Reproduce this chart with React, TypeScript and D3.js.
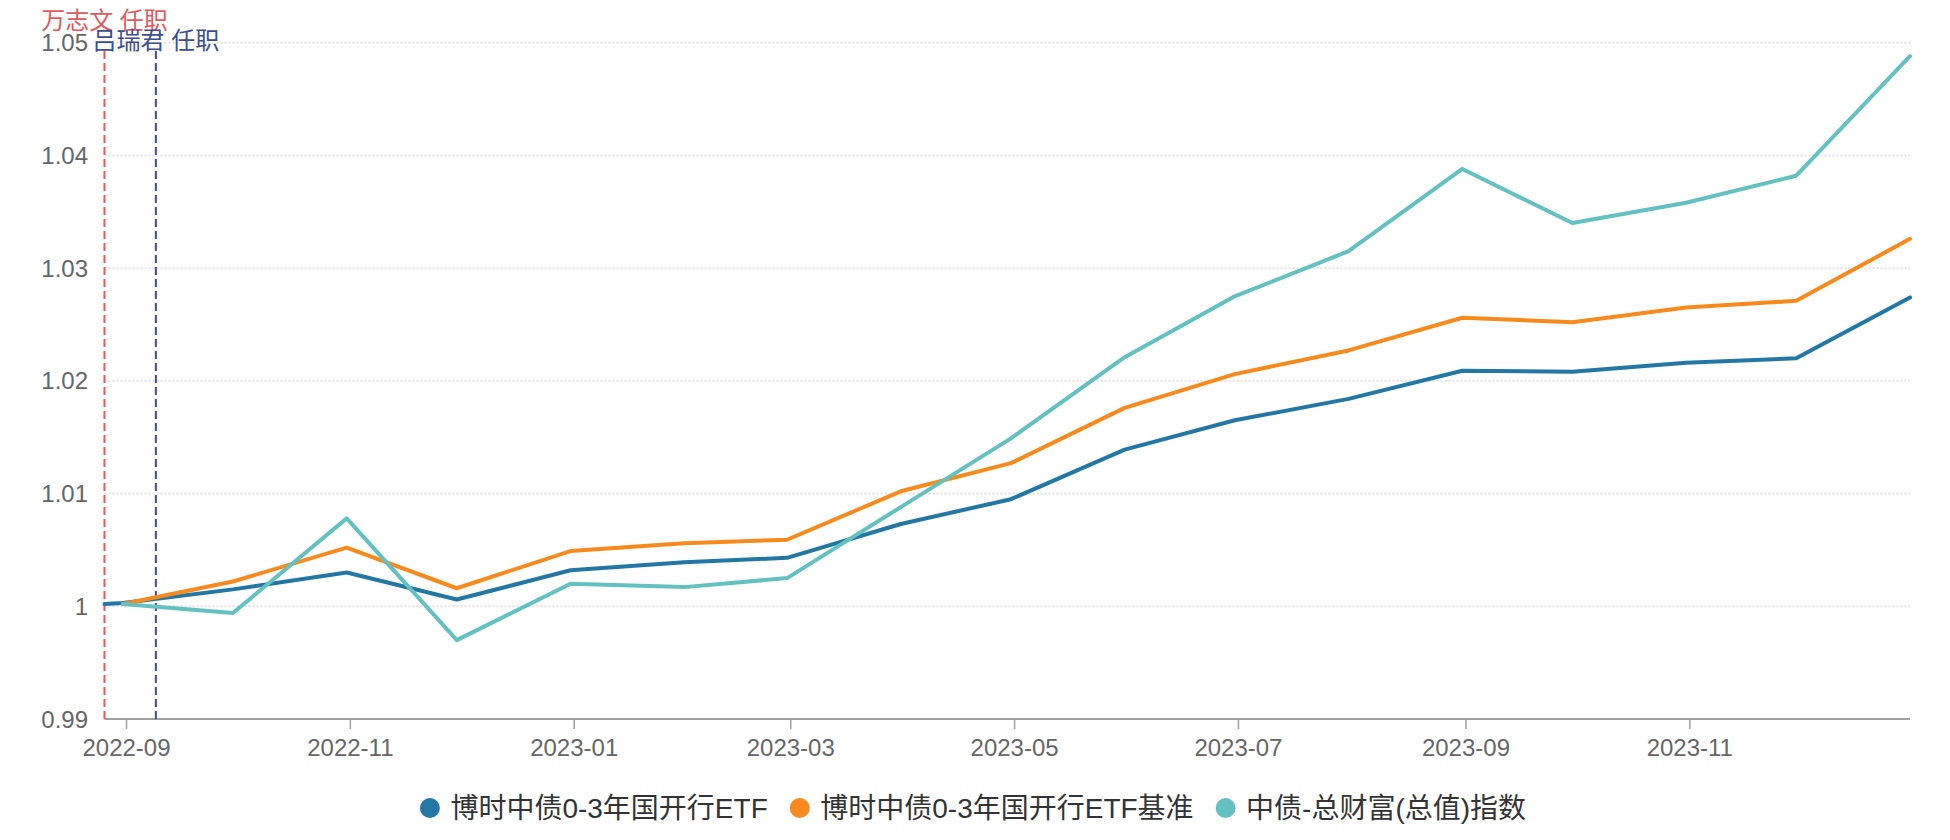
import React, { useEffect, useRef } from "react";
import * as d3 from "d3";

// ---- data ----
const dates = [
  "2022-08-26", "2022-08-31", "2022-09-30", "2022-10-31", "2022-11-30", "2022-12-31",
  "2023-01-31", "2023-02-28", "2023-03-31", "2023-04-30", "2023-05-31", "2023-06-30",
  "2023-07-31", "2023-08-31", "2023-09-30", "2023-10-31", "2023-11-30", "2023-12-31",
];
const fundValues = [
  1.0002, 1.0003, 1.0015, 1.003, 1.0006, 1.0032, 1.0039, 1.0043, 1.0073, 1.0095,
  1.0139, 1.0165, 1.0184, 1.0209, 1.0208, 1.0216, 1.022, 1.0274,
];
const benchmarkValues = [
  null, 1.0002, 1.0022, 1.0052, 1.0016, 1.0049, 1.0056, 1.0059, 1.0102, 1.0127,
  1.0176, 1.0206, 1.0227, 1.0256, 1.0252, 1.0265, 1.0271, 1.0326,
];
const indexValues = [
  null, 1.0002, 0.9994, 1.0078, 0.997, 1.002, 1.0017, 1.0025, 1.0088, 1.0149,
  1.0221, 1.0275, 1.0315, 1.0388, 1.034, 1.0358, 1.0382, 1.0488,
];
const seriesNames = ["博时中债0-3年国开行ETF", "博时中债0-3年国开行ETF基准", "中债-总财富(总值)指数"];
const yTicks = [0.99, 1, 1.01, 1.02, 1.03, 1.04, 1.05];
const yTickLabels = ["0.99", "1", "1.01", "1.02", "1.03", "1.04", "1.05"];
const xTickLabels = ["2022-09", "2022-11", "2023-01", "2023-03", "2023-05", "2023-07", "2023-09", "2023-11"];
const managerLabels = ["万志文 任职", "吕瑞君 任职"];
const managerDates = ["2022-08-26", "2022-09-09"];

// ---- styles ----
const seriesColors = ["#2377a4", "#f78a1d", "#63c1c1"];
const managerColors = ["#e05a5e", "#3e4e8c"];
const FONT = "'Liberation Sans', 'Noto Sans CJK SC', sans-serif";

export default function App() {
  const ref = useRef<SVGSVGElement>(null);

  useEffect(() => {
    const svg = d3.select(ref.current);
    svg.selectAll("*").remove();
    const parse = d3.timeParse("%Y-%m-%d");
    const parseM = d3.timeParse("%Y-%m");
    const dd = dates.map((s) => parse(s) as Date);

    const left = 104.5, right = 1910, top = 42.7, bottom = 719;
    const x = d3.scaleTime().domain([dd[0], dd[dd.length - 1]]).range([left, right]);
    const y = d3.scaleLinear().domain([0.99, 1.05]).range([bottom, top]);

    const g = svg.append("g").attr("font-family", FONT);

    // grid lines
    g.append("g")
      .selectAll("line")
      .data(yTicks.filter((v) => v !== 0.99))
      .join("line")
      .attr("x1", left)
      .attr("x2", right)
      .attr("y1", (d) => y(d))
      .attr("y2", (d) => y(d))
      .attr("stroke", "#e2e2e2")
      .attr("stroke-width", 2)
      .attr("stroke-dasharray", "2,2");

    // y labels
    g.append("g")
      .selectAll("text")
      .data(yTicks)
      .join("text")
      .attr("x", 88)
      .attr("y", (d) => y(d))
      .attr("text-anchor", "end")
      .attr("dominant-baseline", "central")
      .attr("font-size", 24)
      .attr("fill", "#666")
      .text((d, i) => yTickLabels[i]);

    // x axis
    g.append("line")
      .attr("x1", left)
      .attr("x2", right)
      .attr("y1", bottom)
      .attr("y2", bottom)
      .attr("stroke", "#a0a0a0")
      .attr("stroke-width", 2);
    const xt = xTickLabels.map((s) => parseM(s) as Date);
    g.append("g")
      .selectAll("line")
      .data(xt)
      .join("line")
      .attr("x1", (d) => x(d))
      .attr("x2", (d) => x(d))
      .attr("y1", bottom)
      .attr("y2", bottom + 10)
      .attr("stroke", "#a0a0a0")
      .attr("stroke-width", 1.5);
    g.append("g")
      .selectAll("text")
      .data(xt)
      .join("text")
      .attr("x", (d) => x(d))
      .attr("y", 747)
      .attr("text-anchor", "middle")
      .attr("dominant-baseline", "central")
      .attr("font-size", 24)
      .attr("fill", "#666")
      .text((d, i) => xTickLabels[i]);

    // manager mark lines
    managerDates.forEach((s, i) => {
      const xx = x(parse(s) as Date);
      g.append("line")
        .attr("x1", xx)
        .attr("x2", xx)
        .attr("y1", bottom)
        .attr("y2", 51)
        .attr("stroke", managerColors[i])
        .attr("stroke-width", 2)
        .attr("stroke-dasharray", "8,4");
      g.append("text")
        .attr("x", xx)
        .attr("y", i === 0 ? 20 : 40)
        .attr("text-anchor", "middle")
        .attr("dominant-baseline", "central")
        .attr("font-size", 24)
        .attr("fill", managerColors[i])
        .text(managerLabels[i]);
    });

    // series
    const allSeries = [fundValues, benchmarkValues, indexValues];
    allSeries.forEach((vals, si) => {
      const pts = vals.map((v, i) => ({ d: dd[i], v }));
      const line = d3
        .line<{ d: Date; v: number | null }>()
        .defined((p) => p.v != null)
        .x((p) => x(p.d))
        .y((p) => y(p.v as number));
      g.append("path")
        .attr("d", line(pts))
        .attr("fill", "none")
        .attr("stroke", seriesColors[si])
        .attr("stroke-width", 4)
        .attr("stroke-linejoin", "round")
        .attr("stroke-linecap", "round");
    });

    // legend
    const lg = g.append("g");
    const legendY = 808;
    const items = seriesNames.map((name, i) => {
      const it = lg.append("g");
      it.append("circle").attr("cx", 10).attr("cy", legendY).attr("r", 10).attr("fill", seriesColors[i]);
      const t = it
        .append("text")
        .attr("x", 30.5)
        .attr("y", legendY)
        .attr("dominant-baseline", "central")
        .attr("font-size", 28)
        .attr("fill", "#333")
        .text(name);
      const w = (t.node() as SVGTextElement).getComputedTextLength();
      return { it, w: 30.5 + w };
    });
    const gap = 22;
    const total = d3.sum(items, (d) => d.w) + gap * (items.length - 1);
    let cx = 973 - total / 2;
    items.forEach((d) => {
      d.it.attr("transform", `translate(${cx},0)`);
      cx += d.w + gap;
    });
  }, []);

  return (
    <svg
      ref={ref}
      width={1950}
      height={840}
      style={{ position: "absolute", left: 0, top: 0, background: "#fff" }}
    />
  );
}
